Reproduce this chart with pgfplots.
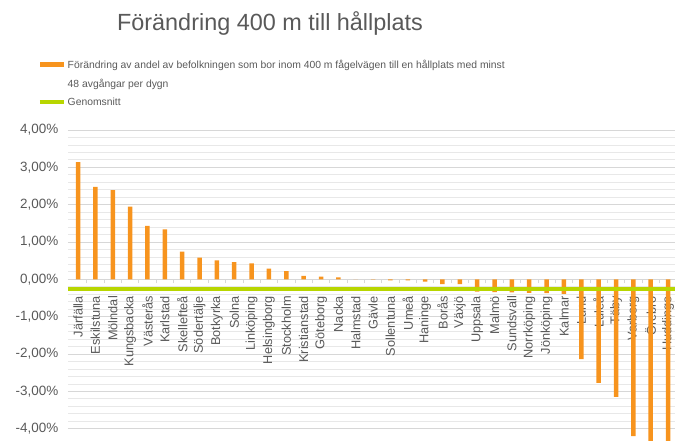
\documentclass[border=0pt]{standalone}
\usepackage{fontspec}
\setmainfont{Liberation Sans}
\usepackage{pgfplots}
\pgfplotsset{compat=1.18}
\definecolor{barorange}{RGB}{247,148,30}
\definecolor{avggreen}{RGB}{184,214,0}
\definecolor{txtgray}{RGB}{89,89,89}
\definecolor{gridgray}{RGB}{215,215,215}
\definecolor{minorgray}{RGB}{232,232,232}
\begin{document}
\begin{tikzpicture}
\path[use as bounding box] (-68bp,0bp) rectangle (609bp,441bp);
\begin{axis}[
  at={(0bp,0bp)}, anchor=south west,
  scale only axis, width=607bp, height=311bp,
  xmin=-0.58, xmax=34.4, ymin=-4.33, ymax=4,
  axis x line*=middle, axis y line*=left,
  x axis line style={gridgray, line width=0.75bp},
  y axis line style={draw=none},
  xtick={0,...,34},
  xticklabels={Järfälla,Eskilstuna,Mölndal,Kungsbacka,Västerås,Karlstad,Skellefteå,Södertälje,Botkyrka,Solna,Linköping,Helsingborg,Stockholm,Kristianstad,Göteborg,Nacka,Halmstad,Gävle,Sollentuna,Umeå,Haninge,Borås,Växjö,Uppsala,Malmö,Sundsvall,Norrköping,Jönköping,Kalmar,Lund,Luleå,Täby,Varberg,Örebro,Huddinge},
  xticklabel style={rotate=90, anchor=east, font=\fontsize{12.8}{15}\selectfont, text=txtgray},
  xticklabel shift=9bp,
  major x tick style={draw=none},
  minor x tick num=1,
  minor x tick style={gridgray, line width=0.75bp},
  minor tick length=4bp,
  tick align=outside,
  ytick={-4,-3,-2,-1,0,1,2,3,4},
  minor y tick num=4,
  ymajorgrids, yminorgrids,
  major grid style={gridgray, line width=0.75bp},
  minor grid style={minorgray, line width=0.75bp},
  major y tick style={draw=none}, minor y tick style={draw=none},
  /pgf/number format/assume math mode=true,
  yticklabel={\pgfmathprintnumber[fixed,fixed zerofill,precision=2,use comma]{\tick}\%},
  yticklabel style={font=\fontsize{13.5}{16}\selectfont, text=txtgray, xshift=-2bp},
  legend style={at={(-0.0494,1.232)}, anchor=north west, draw=none, fill=none,
    font=\fontsize{10.4}{12}\selectfont, text=txtgray, inner sep=0pt, row sep=5bp},
  legend cell align=left,
]
\addplot[ybar, bar width=4.5bp, fill=barorange, draw=none,
  legend image code/.code={\fill[barorange] (0bp,-2.5bp) rectangle (24bp,2.5bp);}]
  table {
x y
0 3.14
1 2.48
2 2.39
3 1.95
4 1.43
5 1.34
6 0.74
7 0.58
8 0.51
9 0.46
10 0.43
11 0.29
12 0.22
13 0.09
14 0.07
15 0.05
16 0.00
17 -0.01
18 -0.03
19 -0.03
20 -0.06
21 -0.13
22 -0.13
23 -0.33
24 -0.34
25 -0.35
26 -0.36
27 -0.37
28 -0.39
29 -2.14
30 -2.77
31 -3.15
32 -4.20
33 -4.50
34 -4.60
};
\addlegendentry{Förändring av andel av befolkningen som bor inom 400 m fågelvägen till en hållplats med minst}
\addlegendimage{empty legend}
\addlegendentry{48 avgångar per dygn}
\addplot[avggreen, line width=4bp,
  legend image code/.code={\draw[avggreen,line width=3.5bp] (0bp,0bp) -- (24bp,0bp);}]
  table {
x y
-0.58 -0.27
34.4 -0.27
};
\addlegendentry{Genomsnitt}
\end{axis}
\node[anchor=base, font=\fontsize{23.5}{28}\selectfont, text=txtgray] at (202bp,410bp) {Förändring 400 m till hållplats};
\end{tikzpicture}
\end{document}
